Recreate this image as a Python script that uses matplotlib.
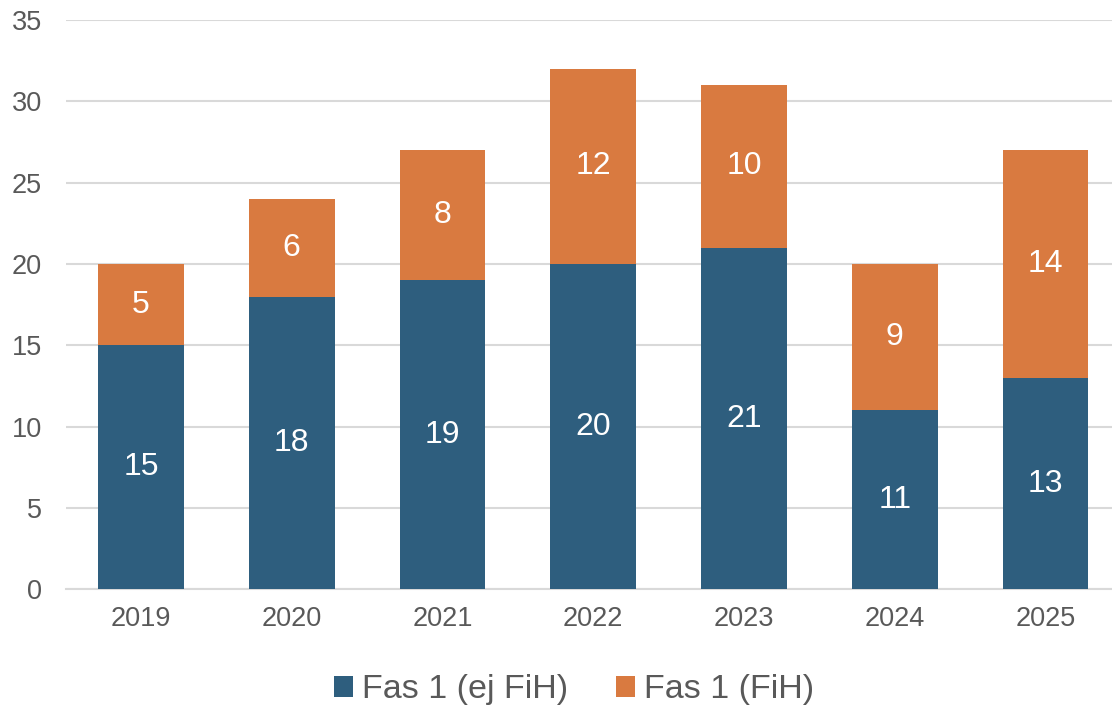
import matplotlib.pyplot as plt
import numpy as np

plt.rcParams['font.family'] = ['Liberation Sans', 'DejaVu Sans']

years = ['2019', '2020', '2021', '2022', '2023', '2024', '2025']
ej_fih = [15, 18, 19, 20, 21, 11, 13]
fih = [5, 6, 8, 12, 10, 9, 14]

blue = '#2E5E7E'
orange = '#D97A40'

fig = plt.figure(figsize=(11.12, 7.11), dpi=100)
ax = fig.add_axes([0.059, 0.171, 0.949, 0.801])

x = np.arange(len(years))
b1 = ax.bar(x, ej_fih, width=0.57, color=blue, label='Fas 1 (ej FiH)', zorder=3)
b2 = ax.bar(x, fih, width=0.57, bottom=ej_fih, color=orange, label='Fas 1 (FiH)', zorder=3)

ax.bar_label(b1, label_type='center', color='white', fontsize=23)
ax.bar_label(b2, label_type='center', color='white', fontsize=23)

ax.set_xlim(-0.5, 6.5)
ax.set_ylim(0, 35)
ax.set_yticks(range(0, 36, 5))
ax.set_xticks(x)
ax.set_xticklabels(years)
ax.yaxis.grid(True, color='#D9D9D9', linewidth=1.5, zorder=0)
for s in ['top', 'right', 'left']:
    ax.spines[s].set_visible(False)
ax.spines['bottom'].set_color('#D9D9D9')
ax.spines['bottom'].set_linewidth(1.5)
ax.tick_params(axis='both', length=0, labelsize=19.5, colors='#595959')
ax.tick_params(axis='x', pad=12)
ax.tick_params(axis='y', pad=17)

fig.legend(loc='center', bbox_to_anchor=(0.516, 0.03), ncol=2, frameon=False,
           fontsize=24.5, labelcolor='#595959', handlelength=0.58, handleheight=0.58,
           handletextpad=0.25, columnspacing=1.4)

fig.savefig('out.png', dpi=100)
